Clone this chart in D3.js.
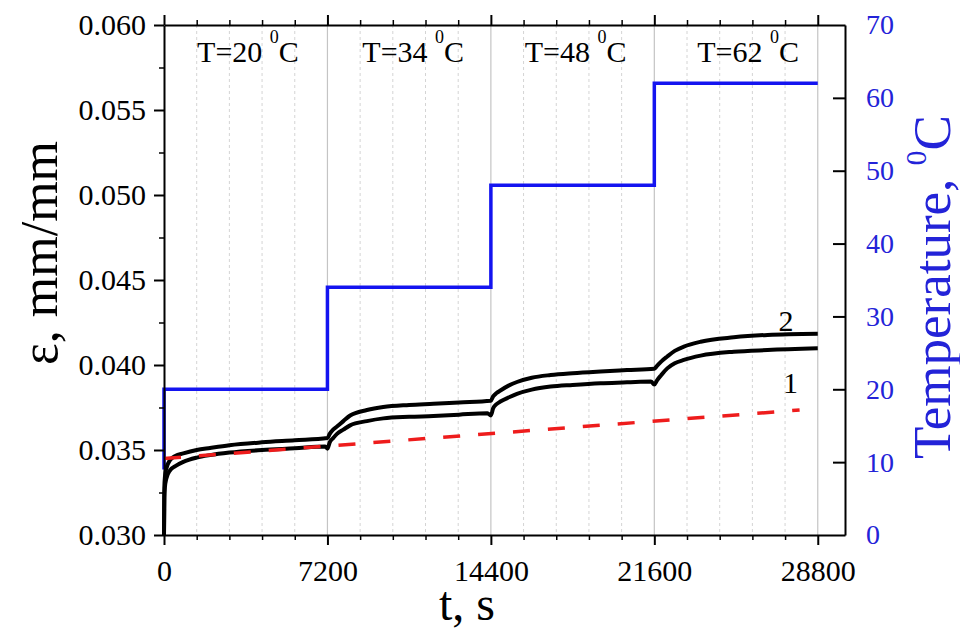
<!DOCTYPE html>
<html>
<head>
<meta charset="utf-8">
<script src="https://cdn.jsdelivr.net/npm/d3@7"></script>
<style>
  html, body { margin: 0; padding: 0; background: #fff; }
  svg { display: block; }
  text { font-family: "Liberation Serif", "Times New Roman", serif; }
</style>
</head>
<body>
<svg id="chart" width="960" height="630"></svg>
<script>
// ---------------- data ----------------
const xMajorTicks = [0, 7200, 14400, 21600, 28800];
const yTicks = [0.030, 0.035, 0.040, 0.045, 0.050, 0.055, 0.060];
const tempTicks = [0, 10, 20, 30, 40, 50, 60, 70];

// temperature program (step)
const tempStepTimes = [0, 7200, 14400, 21600];
const tempStepLevels = [20, 34, 48, 62];
const tempStart = 9;
const tempEnd = 28800;

// step annotation labels
const stepLabels = ["T=20 ", "T=34 ", "T=48 ", "T=62 "];
const stepLabelT = [3700, 10980, 18130, 25730];

// curve 2 (upper) [t, strain]
const curve2 = [
  [0,0.0300],[15,0.0328],[40,0.0334],[100,0.0339],[265,0.0344],[500,0.03465],[850,0.0348],
  [1440,0.0350],[2030,0.03512],[2880,0.03528],[4320,0.03545],[5760,0.03557],[7200,0.0357],
  [7300,0.03595],[7450,0.0362],[7620,0.03638],[7900,0.0367],[8200,0.03703],[8940,0.03735],
  [9660,0.03753],[10800,0.03765],[11870,0.03772],[13000,0.0378],[14400,0.0379],
  [14500,0.03815],[14650,0.03835],[14820,0.0385],[15200,0.0388],[15550,0.0390],[16200,0.03925],
  [17030,0.03941],[18000,0.03952],[19230,0.03962],[20400,0.0397],[21600,0.03978],
  [21720,0.03995],[21900,0.0402],[22170,0.0405],[22500,0.04083],[22900,0.04108],[23640,0.04137],
  [25100,0.04163],[26590,0.04177],[28800,0.04184]
];
// curve 1 (lower)
const curve1 = [
  [0,0.0300],[15,0.0322],[40,0.0328],[100,0.0333],[265,0.0338],[500,0.03405],[850,0.0343],
  [1440,0.03455],[2030,0.0347],[2880,0.03485],[4320,0.0350],[5760,0.0351],[7100,0.0352],[7200,0.03508],
  [7300,0.03545],[7450,0.0357],[7620,0.03595],[7900,0.0362],[8200,0.03645],[8940,0.0367],
  [9660,0.03686],[10800,0.03695],[11870,0.0370],[13000,0.03708],[14250,0.03716],[14400,0.03703],
  [14500,0.03745],[14650,0.0377],[14820,0.03785],[15200,0.0381],[15550,0.0383],[16200,0.03855],
  [17030,0.03873],[18000,0.03883],[19230,0.03893],[20400,0.03898],[21450,0.03903],[21600,0.03885],
  [21720,0.0391],[21900,0.0394],[22170,0.0398],[22500,0.0401],[22900,0.0403],[23640,0.04055],
  [25100,0.04078],[26590,0.04088],[28800,0.04098]
];
// red dashed reference line
const refLine = [[0,0.0345],[28000,0.03735]];

// curve labels
const curveLabels = ["2", "1"];
const curveLabelPos = [[27400, 0.0420], [27600, 0.03835]];

// ---------------- layout ----------------
const svg = d3.select("#chart");
const L = 164, R = 845, T = 25, B = 535;
const x = d3.scaleLinear().domain([0, 30000]).range([L, R]);
const y = d3.scaleLinear().domain([0.030, 0.060]).range([B, T]);
const yT = d3.scaleLinear().domain([0, 70]).range([B, T]);

const xMinor = d3.range(0, 28801, 1440).filter(d => !xMajorTicks.includes(d));
const yMinor = d3.range(0.0325, 0.060, 0.005);

const blue = "#1414f0";
const blueText = "#2323d8";

// gridlines
const grid = svg.append("g");
grid.selectAll("line.minor").data(xMinor).join("line")
  .attr("x1", d => x(d)).attr("x2", d => x(d)).attr("y1", T).attr("y2", B)
  .attr("stroke", "#d4d4d4").attr("stroke-width", 1).attr("stroke-dasharray", "3,3");
grid.selectAll("line.major").data(xMajorTicks.filter(d => d > 0)).join("line")
  .attr("x1", d => x(d)).attr("x2", d => x(d)).attr("y1", T).attr("y2", B)
  .attr("stroke", "#c4c4c4").attr("stroke-width", 1.2);

// temperature step line
const tempPts = [[0, tempStart]];
tempStepTimes.forEach((t, i) => tempPts.push([t, tempStepLevels[i]]));
tempPts.push([tempEnd, tempStepLevels[tempStepLevels.length - 1]]);
svg.append("path")
  .attr("d", d3.line().x(d => x(d[0])).y(d => yT(d[1])).curve(d3.curveStepAfter)(tempPts))
  .attr("fill", "none").attr("stroke", blue).attr("stroke-width", 3.5);

// strain curves
const lineGen = d3.line().x(d => x(d[0])).y(d => y(d[1])).curve(d3.curveMonotoneX);
[curve2, curve1].forEach(c => {
  svg.append("path").attr("d", lineGen(c))
    .attr("fill", "none").attr("stroke", "#000").attr("stroke-width", 4)
    .attr("stroke-linejoin", "round");
});

// red dashed line
svg.append("path").attr("d", d3.line().x(d => x(d[0])).y(d => y(d[1]))(refLine))
  .attr("fill", "none").attr("stroke", "#ee1c1c").attr("stroke-width", 3.5)
  .attr("stroke-dasharray", "17,18");

// ---------------- axes ----------------
function styleAxis(g, w) {
  g.selectAll(".domain").attr("stroke", "#000").attr("stroke-width", 2);
  g.selectAll(".tick line").attr("stroke", "#000").attr("stroke-width", w);
}
// bottom
const gb = svg.append("g").attr("transform", `translate(0,${B})`)
  .call(d3.axisBottom(x).tickValues(xMajorTicks).tickSize(10).tickSizeOuter(0).tickPadding(15).tickFormat(d3.format("d")));
styleAxis(gb, 2);
gb.selectAll("text").attr("font-size", 30).attr("fill", "#000")
  .style("font-family", '"Liberation Serif", serif');
const gbm = svg.append("g").attr("transform", `translate(0,${B})`)
  .call(d3.axisBottom(x).tickValues(xMinor).tickSize(5).tickSizeOuter(0).tickFormat(""));
styleAxis(gbm, 1.5);
gbm.select(".domain").remove();
// top
const gt = svg.append("g").attr("transform", `translate(0,${T})`)
  .call(d3.axisTop(x).tickValues(xMajorTicks).tickSize(10).tickSizeOuter(0).tickFormat(""));
styleAxis(gt, 2);
const gtm = svg.append("g").attr("transform", `translate(0,${T})`)
  .call(d3.axisTop(x).tickValues(xMinor).tickSize(5).tickSizeOuter(0).tickFormat(""));
styleAxis(gtm, 1.5);
gtm.select(".domain").remove();
// left
const gl = svg.append("g").attr("transform", `translate(${L},0)`)
  .call(d3.axisLeft(y).tickValues(yTicks).tickSize(10).tickSizeOuter(0).tickPadding(8).tickFormat(d3.format(".3f")));
styleAxis(gl, 2);
gl.selectAll("text").attr("font-size", 30).attr("fill", "#000")
  .style("font-family", '"Liberation Serif", serif');
const glm = svg.append("g").attr("transform", `translate(${L},0)`)
  .call(d3.axisLeft(y).tickValues(yMinor).tickSize(5).tickSizeOuter(0).tickFormat(""));
styleAxis(glm, 1.5);
glm.select(".domain").remove();
// right (temperature)
const gr = svg.append("g").attr("transform", `translate(${R},0)`)
  .call(d3.axisRight(yT).tickValues(tempTicks).tickSizeInner(-12).tickSizeOuter(0).tickPadding(21));
styleAxis(gr, 2);
gr.selectAll(".tick").filter(d => d === 0 || d === 70).select("line").remove();
gr.selectAll("text").attr("font-size", 28).attr("fill", blueText)
  .style("font-family", '"Liberation Serif", serif');

// ---------------- annotations ----------------
stepLabels.forEach((s, i) => {
  const t = svg.append("text").attr("x", x(stepLabelT[i])).attr("y", 62)
    .attr("text-anchor", "middle").attr("font-size", 30).attr("fill", "#000");
  t.append("tspan").text(s);
  t.append("tspan").attr("font-size", 18).attr("dy", -19).text("0");
  t.append("tspan").attr("dy", 19).text("C");
});
curveLabels.forEach((s, i) => {
  svg.append("text").attr("x", x(curveLabelPos[i][0])).attr("y", y(curveLabelPos[i][1]))
    .attr("text-anchor", "middle").attr("font-size", 30).attr("fill", "#000").text(s);
});

// axis titles
svg.append("text").attr("x", 467).attr("y", 620).attr("text-anchor", "middle")
  .attr("font-size", 48).attr("fill", "#000").text("t, s");
svg.append("text").attr("transform", "rotate(-90)").attr("x", -253).attr("y", 57)
  .attr("text-anchor", "middle").attr("font-size", 52).attr("fill", "#000").text("ε, mm/mm");
const tt = svg.append("text").attr("transform", "rotate(-90)").attr("x", -287).attr("y", 950)
  .attr("text-anchor", "middle").attr("font-size", 53).attr("fill", blueText);
tt.append("tspan").text("Temperature, ");
tt.append("tspan").attr("font-size", 30).attr("dy", -24).text("0");
tt.append("tspan").attr("dy", 24).text("C");
</script>
</body>
</html>
